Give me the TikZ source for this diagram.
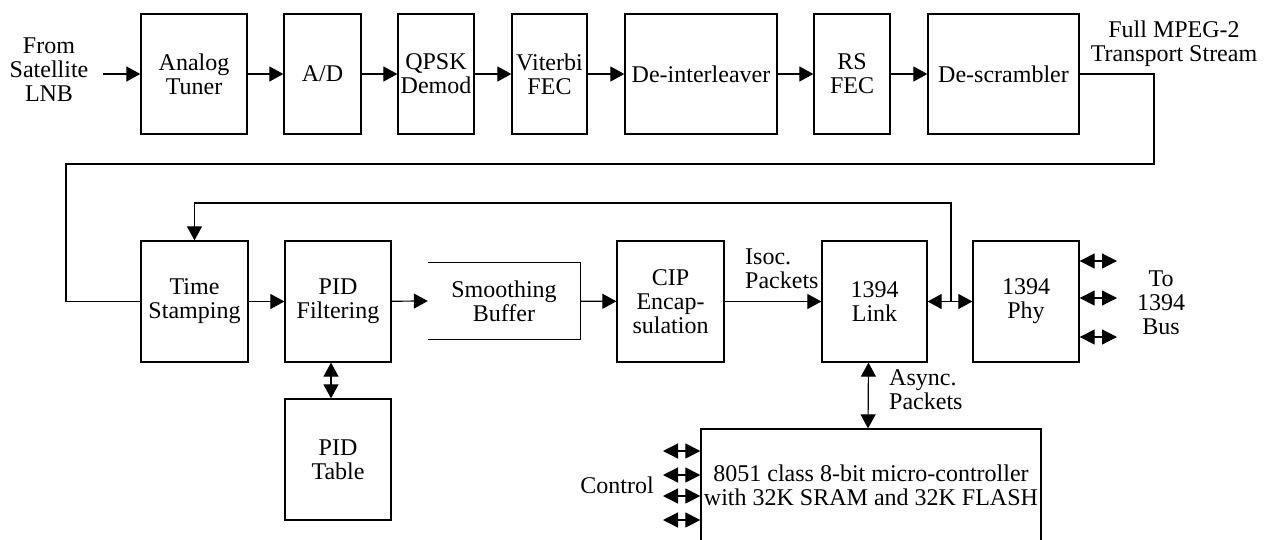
\documentclass[tikz,border=0pt]{standalone}
\usepackage{fontspec}
\setmainfont{Liberation Serif}
\usetikzlibrary{arrows.meta,calc}
\begin{document}
\begin{tikzpicture}[x=1pt,y=-1pt,
  every node/.style={font=\fontsize{24}{24}\selectfont, align=center, inner sep=0pt},
  blk/.style={draw, line width=1.3pt, inner sep=0pt},
  toprow/.style={blk, minimum height=120pt},
  midrow/.style={blk, minimum height=121pt},
  wire/.style={line width=1.2pt},
  flow/.style={wire, -{Triangle[length=14pt,width=15pt]}},
  bidir/.style={wire, {Triangle[length=14pt,width=15pt]}-{Triangle[length=14pt,width=15pt]}},
  port/.style={wire, {Triangle[length=15pt,width=15pt]}-{Triangle[length=15pt,width=15pt]}}]
\useasboundingbox (0,0) rectangle (1264,539);

% receiver chain
\node[toprow, minimum width=106pt] (tuner) at (194,74)    {Analog\\Tuner};
\node[toprow, minimum width=77pt]  (ad)    at (322.5,74)  {A/D};
\node[toprow, minimum width=76pt]  (qpsk)  at (436,74)    {QPSK\\Demod};
\node[toprow, minimum width=75pt]  (vit)   at (549.5,74)  {Viterbi\\FEC};
\node[toprow, minimum width=152pt] (deint) at (701,74)    {De-interleaver};
\node[toprow, minimum width=76pt]  (rs)    at (852,74)    {RS\\FEC};
\node[toprow, minimum width=151pt] (descr) at (1003.5,74) {De-scrambler};

% transport stream processing
\node[midrow, minimum width=107pt] (ts)   at (194.5,301.5) {Time\\Stamping};
\node[midrow, minimum width=106pt] (pidf) at (338,301.5)   {PID\\Filtering};
\node[minimum width=152pt, minimum height=76pt] (smooth) at (504,301) {Smoothing\\Buffer};
\node[midrow, minimum width=107pt] (cip)  at (670.5,301.5) {CIP\\Encap-\\sulation};
\node[midrow, minimum width=105pt] (link) at (874.5,301.5) {1394\\Link};
\node[midrow, minimum width=106pt] (phy)  at (1026,301.5)  {1394\\Phy};
\node[midrow, minimum width=106pt] (pidt) at (338,459.5)   {PID\\Table};
\node[blk, minimum width=340pt, minimum height=112pt] (mcu) at (871,485)
  {8051 class 8-bit micro-controller\\with 32K SRAM and 32K FLASH};

% buffer drawn open on its input side
\draw[blk] (smooth.north west) -- (smooth.north east) -- (smooth.south east) -- (smooth.south west);

% labels
\node (lnb)  at (49,70)   {From\\Satellite\\LNB};
\node (mpeg) at (1174,44) {Full MPEG-2\\Transport Stream};
\node[anchor=west, align=left] (isoc)  at (745,269) {Isoc.\\Packets};
\node[anchor=west, align=left] (async) at (889,390) {Async.\\Packets};
\node (bus)  at (1161,303) {To\\1394\\Bus};
\node (ctl)  at (617,485)  {Control};

% top chain
\coordinate (src) at (103,74);
\draw[flow] (src) -- (tuner.west);
\draw[flow] (tuner) -- (ad);
\draw[flow] (ad) -- (qpsk);
\draw[flow] (qpsk) -- (vit);
\draw[flow] (vit) -- (deint);
\draw[flow] (deint) -- (rs);
\draw[flow] (rs) -- (descr);

% transport stream wraps down to the second row
\coordinate (turn) at (1154,164);
\coordinate (back) at (66,164);
\draw[wire] (descr.east) -| (turn) -- (back) |- (ts.west);

% second row
\draw[flow] (ts) -- (pidf);
\draw[flow] (pidf) -- (smooth.west);
\draw[flow] (smooth) -- (cip);
\draw[flow] (cip) -- (link);
\draw[bidir] (link) -- (phy);

% cycle-time feedback into the time stamper
\coordinate (tap) at (951,301.5);
\coordinate (fbtop) at (951,203);
\draw[flow] (tap) -- (fbtop) -| (ts.north);

% table and controller links
\draw[bidir] ($(pidf.south)+(-7,0)$) -- ($(pidt.north)+(-7,0)$);
\draw[bidir] ($(link.south)+(-6,0)$) -- ($(mcu.north)+(-3,0)$);

% bus ports
\foreach \y/\n in {261/1, 298/2, 337/3} {
  \coordinate (bus\n) at (1117,\y);
  \draw[port] (phy.east |- bus\n) -- (bus\n);
}

% control ports
\foreach \y/\n in {451/1, 475/2, 496/3, 520/4} {
  \coordinate (ctl\n) at (663,\y);
  \draw[port] (ctl\n) -- (ctl\n -| mcu.west);
}
\end{tikzpicture}
\end{document}
